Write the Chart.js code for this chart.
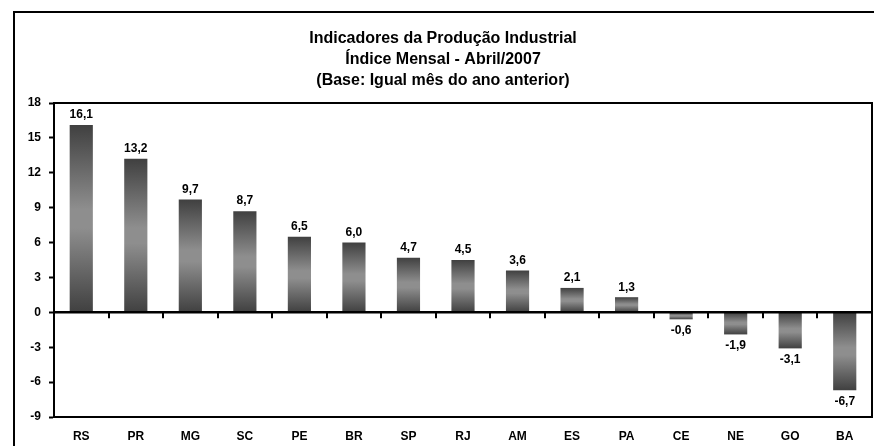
<!DOCTYPE html>
<html>
<head>
<meta charset="utf-8">
<script src="https://cdn.jsdelivr.net/npm/chart.js@4.4.1/dist/chart.umd.min.js"></script>
<style>
  html, body { margin: 0; padding: 0; background: #fff; }
  #wrap { width: 874px; height: 446px; }
</style>
</head>
<body>
<div id="wrap"><canvas id="chart"></canvas></div>
<script>
const titleLines = ["Indicadores da Produção Industrial", "Índice Mensal - Abril/2007", "(Base: Igual mês do ano anterior)"];
const states = ["RS", "PR", "MG", "SC", "PE", "BR", "SP", "RJ", "AM", "ES", "PA", "CE", "NE", "GO", "BA"];
const indexValues = [16.1, 13.2, 9.7, 8.7, 6.5, 6.0, 4.7, 4.5, 3.6, 2.1, 1.3, -0.6, -1.9, -3.1, -6.7];
const yMin = -9;
const yMax = 18;
const yStep = 3;

const FONT = '"Liberation Sans", Arial, sans-serif';

// gradient per bar: dark at both ends, lighter in the middle
function barFill(ctx) {
    const chart = ctx.chart;
    const ys = chart.scales.y;
    if (!chart.chartArea || !ys) return "#666";
    const y0 = ys.getPixelForValue(0);
    const y1 = ys.getPixelForValue(ctx.raw);
    if (!isFinite(y0) || !isFinite(y1) || y0 === y1) return "#666";
    const g = chart.ctx.createLinearGradient(0, y1, 0, y0);
    g.addColorStop(0, "#404040");
    g.addColorStop(0.45, "#8e8e8e");
    g.addColorStop(0.55, "#8e8e8e");
    g.addColorStop(1, "#404040");
    return g;
}

const framePlugin = {
    id: "frame",
    beforeDraw(chart) {
        const c = chart.ctx;
        c.save();
        c.fillStyle = "#fff";
        c.fillRect(0, 0, chart.width, chart.height);
        c.strokeStyle = "#000";
        c.lineWidth = 2;
        c.strokeRect(14, 12, chart.width + 20, chart.height + 20);
        c.restore();
    },
    afterDatasetsDraw(chart) {
        const c = chart.ctx;
        const area = chart.chartArea;
        const xs = chart.scales.x;
        const ys = chart.scales.y;
        const y0 = ys.getPixelForValue(0);
        c.save();
        c.strokeStyle = "#000";
        // plot border
        c.lineWidth = 2;
        c.strokeRect(area.left, area.top, area.right - area.left, area.bottom - area.top);
        // zero line
        c.lineWidth = 2.5;
        c.beginPath();
        c.moveTo(area.left, y0);
        c.lineTo(area.right, y0);
        c.stroke();
        // category tick marks under zero line
        c.lineWidth = 2;
        const n = states.length;
        for (let i = 1; i < n; i++) {
            const x = Math.round((xs.getPixelForValue(i - 1) + xs.getPixelForValue(i)) / 2);
            c.beginPath();
            c.moveTo(x, y0);
            c.lineTo(x, y0 + 6);
            c.stroke();
        }
        // value labels
        c.fillStyle = "#000";
        c.font = "bold 12px " + FONT;
        c.textAlign = "center";
        const meta = chart.getDatasetMeta(0);
        meta.data.forEach((bar, i) => {
            const v = indexValues[i];
            const txt = v.toFixed(1).replace(".", ",");
            if (v >= 0) {
                c.textBaseline = "bottom";
                c.fillText(txt, bar.x, bar.y - 4);
            } else {
                c.textBaseline = "top";
                c.fillText(txt, bar.x, bar.y + 5);
            }
        });
        c.restore();
    }
};

new Chart(document.getElementById("chart"), {
    type: "bar",
    data: {
        labels: states,
        datasets: [{
            data: indexValues,
            backgroundColor: barFill,
            borderWidth: 0,
            barPercentage: 0.85,
            categoryPercentage: 0.5
        }]
    },
    options: {
        responsive: true,
        maintainAspectRatio: false,
        animation: false,
        layout: { padding: { left: 14, right: 2, top: 0, bottom: 0 } },
        plugins: {
            legend: { display: false },
            tooltip: { enabled: false },
            title: {
                display: true,
                text: titleLines,
                color: "#000",
                font: { family: FONT, size: 16, weight: "bold", lineHeight: 1.3125 },
                padding: { top: 28, bottom: 12 }
            }
        },
        scales: {
            x: {
                grid: { display: false, drawTicks: false },
                border: { display: false },
                ticks: {
                    color: "#000",
                    padding: 12,
                    maxRotation: 0,
                    font: { family: FONT, size: 12, weight: "bold" }
                },
                afterFit(scale) { scale.height = 29; }
            },
            y: {
                min: yMin,
                max: yMax,
                ticks: {
                    stepSize: yStep,
                    color: "#000",
                    padding: 8,
                    font: { family: FONT, size: 12, weight: "bold" }
                },
                grid: {
                    drawOnChartArea: false,
                    tickLength: 5,
                    tickColor: "#000",
                    tickWidth: 2
                },
                border: { display: true, color: "#000", width: 2 },
                afterFit(scale) { scale.width = 40; }
            }
        }
    },
    plugins: [framePlugin]
});
</script>
</body>
</html>
